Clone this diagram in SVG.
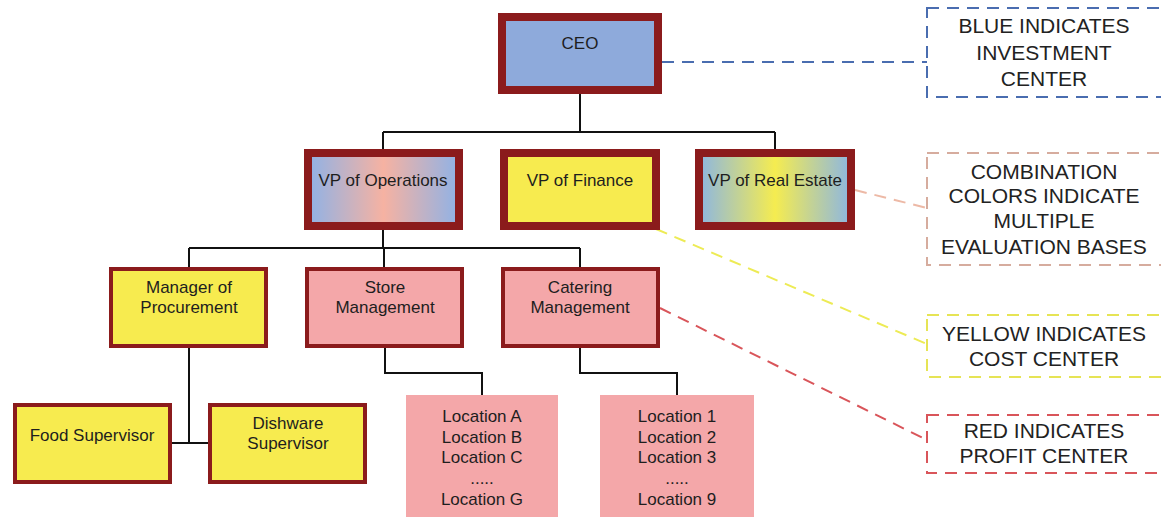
<svg xmlns="http://www.w3.org/2000/svg" width="1161" height="517" viewBox="0 0 1161 517">
<style>
text{font-family:"Liberation Sans",Arial,sans-serif;fill:#1e1e1e;text-anchor:middle}
.n{font-size:17px}
.lg{font-size:21px;fill:#222}
.b2{stroke:#8B1B1C;stroke-width:8}
.b3{stroke:#8B1B1C;stroke-width:4}
.y{fill:#F7EB4F}
.p{fill:#F4A7A9}
.c{fill:none;stroke:#111;stroke-width:2}
.d{fill:none;stroke-width:2;stroke-dasharray:12 8}
.lb{fill:#fff;stroke-width:2;stroke-dasharray:12 8}
</style>
<defs>
<linearGradient id="gOps" x1="0" y1="0" x2="1" y2="0">
<stop offset="0" stop-color="#8FB2E6"/><stop offset="0.5" stop-color="#F6B2A2"/><stop offset="1" stop-color="#8FB2E6"/>
</linearGradient>
<linearGradient id="gRE" x1="0" y1="0" x2="1" y2="0">
<stop offset="0" stop-color="#8CB6E2"/><stop offset="0.5" stop-color="#F5EC50"/><stop offset="1" stop-color="#8CB6E2"/>
</linearGradient>
</defs>
<rect width="1161" height="517" fill="#fff"/>

<g id="connectors">
<path class="c" d="M580 94V132M383 132H775M383 132V149M775 132V149"/>
<path class="c" d="M383 230V248M189 248H580M189 248V267M384 248V267M580 248V267"/>
<path class="c" d="M189 348V443M172 443H208"/>
<path class="c" d="M385 348V373H482V395"/>
<path class="c" d="M580 348V373H677V395"/>
<path class="d" stroke="#4A6DB0" d="M662 62H927"/>
<path class="d" stroke="#EDB9A6" d="M855 190L927 208"/>
<path class="d" stroke="#EDEB55" d="M656 229L927 344"/>
<path class="d" stroke="#D9555A" d="M660 308L927 440"/>
</g>

<g id="node-ceo">
<rect class="b2" x="502" y="17" width="156" height="73" fill="#8EAADB"/>
<text class="n" x="580" y="49">CEO</text>
</g>

<g id="node-vp-operations">
<rect class="b2" x="308" y="153" width="151" height="73" fill="url(#gOps)"/>
<text class="n" x="383" y="186">VP of Operations</text>
</g>
<g id="node-vp-finance">
<rect class="b2" x="504" y="153" width="152" height="73" fill="#F7EB4F"/>
<text class="n" x="580" y="186">VP of Finance</text>
</g>
<g id="node-vp-real-estate">
<rect class="b2" x="699" y="153" width="152" height="73" fill="url(#gRE)"/>
<text class="n" x="775" y="186">VP of Real Estate</text>
</g>

<g id="node-procurement">
<rect class="b3 y" x="111" y="269" width="155" height="77"/>
<text class="n" x="189" y="293">Manager of</text>
<text class="n" x="189" y="313">Procurement</text>
</g>
<g id="node-store">
<rect class="b3 p" x="307" y="269" width="155" height="77"/>
<text class="n" x="385" y="293">Store</text>
<text class="n" x="385" y="313">Management</text>
</g>
<g id="node-catering">
<rect class="b3 p" x="503" y="269" width="155" height="77"/>
<text class="n" x="580" y="293">Catering</text>
<text class="n" x="580" y="313">Management</text>
</g>

<g id="node-food">
<rect class="b3 y" x="15" y="405" width="155" height="77"/>
<text class="n" x="92" y="441">Food Supervisor</text>
</g>
<g id="node-dishware">
<rect class="b3 y" x="210" y="405" width="155" height="77"/>
<text class="n" x="288" y="429">Dishware</text>
<text class="n" x="288" y="449">Supervisor</text>
</g>

<g id="node-store-locations">
<rect class="p" x="406" y="395" width="152" height="130"/>
<text class="n" x="482" y="422">Location A</text>
<text class="n" x="482" y="443">Location B</text>
<text class="n" x="482" y="463">Location C</text>
<text class="n" x="482" y="484">.....</text>
<text class="n" x="482" y="505">Location G</text>
</g>
<g id="node-catering-locations">
<rect class="p" x="600" y="395" width="154" height="130"/>
<text class="n" x="677" y="422">Location 1</text>
<text class="n" x="677" y="443">Location 2</text>
<text class="n" x="677" y="463">Location 3</text>
<text class="n" x="677" y="484">.....</text>
<text class="n" x="677" y="505">Location  9</text>
</g>

<g id="legend-blue">
<rect class="lb" stroke="#4A6DB0" x="927" y="8" width="236" height="89"/>
<text class="lg" x="1044" y="33">BLUE INDICATES</text>
<text class="lg" x="1044" y="60">INVESTMENT</text>
<text class="lg" x="1044" y="86">CENTER</text>
</g>
<g id="legend-combination">
<rect class="lb" stroke="#D6AC9E" x="927" y="153" width="236" height="112"/>
<text class="lg" x="1044" y="179">COMBINATION</text>
<text class="lg" x="1044" y="203">COLORS INDICATE</text>
<text class="lg" x="1044" y="228">MULTIPLE</text>
<text class="lg" x="1044" y="254">EVALUATION BASES</text>
</g>
<g id="legend-yellow">
<rect class="lb" stroke="#E6E455" x="927" y="315" width="236" height="62"/>
<text class="lg" x="1044" y="341">YELLOW INDICATES</text>
<text class="lg" x="1044" y="366">COST CENTER</text>
</g>
<g id="legend-red">
<rect class="lb" stroke="#D9555A" x="927" y="415" width="236" height="58"/>
<text class="lg" x="1044" y="438">RED INDICATES</text>
<text class="lg" x="1044" y="463">PROFIT CENTER</text>
</g>
</svg>
